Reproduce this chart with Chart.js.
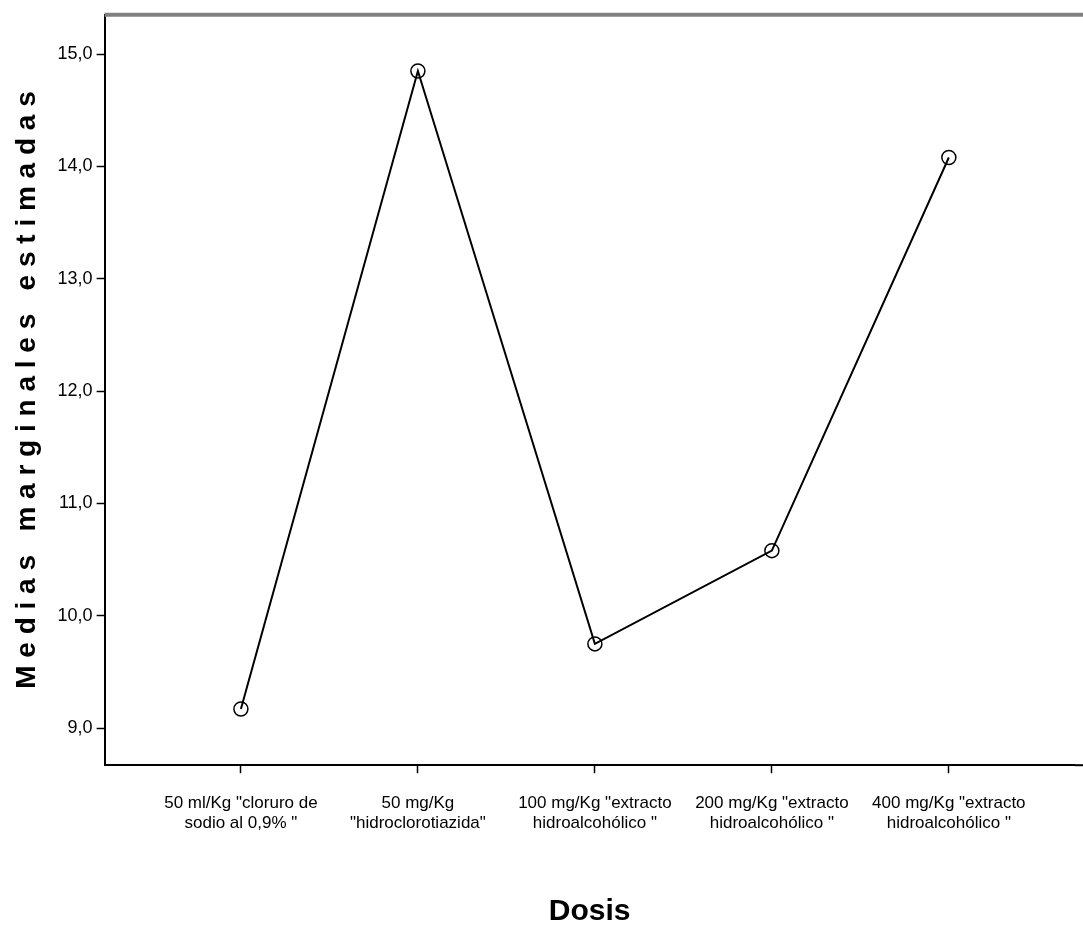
<!DOCTYPE html>
<html lang="es">
<head>
<meta charset="UTF-8">
<title>Medias marginales estimadas</title>
<script src="https://cdn.jsdelivr.net/npm/chart.js"></script>
<style>
  html, body { margin: 0; padding: 0; background: #fff; }
  #wrap { width: 1083px; height: 931px; }
</style>
</head>
<body>
<div id="wrap"><canvas id="c" width="1083" height="931"></canvas></div>
<script>
// categorías (Dosis)
const categorias = [
  ['50 ml/Kg "cloruro de', 'sodio al 0,9% "'],
  ['50 mg/Kg', '"hidroclorotiazida"'],
  ['100 mg/Kg "extracto', 'hidroalcohólico "'],
  ['200 mg/Kg "extracto', 'hidroalcohólico "'],
  ['400 mg/Kg "extracto', 'hidroalcohólico "']
];
const medias = [9.17, 14.85, 9.75, 10.58, 14.08];
const yTicks = [9, 10, 11, 12, 13, 14, 15];

const puntos = medias.map((v, i) => ({ x: i, y: v }));

// borde superior gris y eje inferior hasta el borde
const frame = {
  id: 'frame',
  afterDraw(chart) {
    const { ctx, chartArea: a } = chart;
    ctx.save();
    ctx.strokeStyle = '#808080';
    ctx.lineWidth = 4;
    ctx.beginPath();
    ctx.moveTo(a.left, a.top);
    ctx.lineTo(a.right + 20, a.top);
    ctx.stroke();
    ctx.strokeStyle = '#000';
    ctx.lineWidth = 2;
    ctx.beginPath();
    ctx.moveTo(a.right, a.bottom);
    ctx.lineTo(a.right + 20, a.bottom);
    ctx.stroke();
    ctx.restore();
  }
};

new Chart(document.getElementById('c'), {
  type: 'line',
  data: {
    datasets: [{
      data: puntos,
      borderColor: '#000',
      borderWidth: 2,
      pointStyle: 'circle',
      pointRadius: 7,
      pointBorderWidth: 1.5,
      pointBorderColor: '#000',
      pointBackgroundColor: 'rgba(0,0,0,0)',
      tension: 0
    }]
  },
  options: {
    responsive: false,
    animation: false,
    layout: { padding: { top: 10, right: -8, left: 10, bottom: 1 } },
    plugins: { legend: { display: false }, tooltip: { enabled: false } },
    scales: {
      x: {
        type: 'linear',
        min: -0.77,
        max: 4.71,
        afterBuildTicks: s => { s.ticks = categorias.map((c, i) => ({ value: i })); },
        ticks: {
          callback: v => categorias[v],
          color: '#000',
          font: { family: 'Liberation Sans', size: 17 },
          maxRotation: 0,
          autoSkip: false,
          padding: 20
        },
        grid: { display: true, drawOnChartArea: false, drawTicks: true, tickLength: 8, tickColor: '#000', tickWidth: 1.5 },
        border: { color: '#000', width: 2 },
        title: {
          display: true,
          text: 'Dosis',
          color: '#000',
          font: { family: 'Liberation Sans', size: 30, weight: 'bold' },
          padding: { top: 40, bottom: 0 }
        }
      },
      y: {
        min: 8.67,
        max: 15.35,
        afterBuildTicks: s => { s.ticks = yTicks.map(v => ({ value: v })); },
        ticks: {
          callback: v => v.toFixed(1).replace('.', ','),
          color: '#000',
          font: { family: 'Liberation Sans', size: 18 },
          padding: 4
        },
        grid: { display: true, drawOnChartArea: false, drawTicks: true, tickLength: 8, tickColor: '#000', tickWidth: 1.5 },
        border: { color: '#000', width: 2 },
        title: {
          display: true,
          text: 'M e d i a s   m a r g i n a l e s   e s t i m a d a s',
          color: '#000',
          font: { family: 'Liberation Sans', size: 28, weight: 'bold' },
          padding: { top: 0, bottom: 10 }
        }
      }
    }
  },
  plugins: [frame]
});
</script>
</body>
</html>
